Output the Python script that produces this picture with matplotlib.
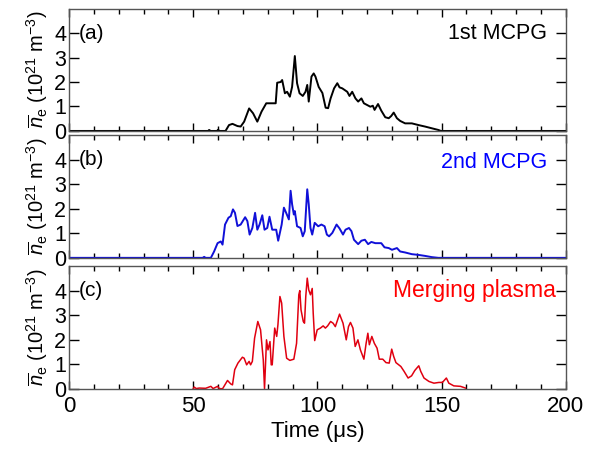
import matplotlib
matplotlib.use('Agg')
import matplotlib.pyplot as plt
from matplotlib.ticker import MultipleLocator

plt.rcParams['font.family'] = ['Liberation Sans', 'DejaVu Sans']
plt.rcParams['mathtext.fontset'] = 'custom'
plt.rcParams['mathtext.rm'] = 'Liberation Sans'
plt.rcParams['mathtext.it'] = 'Liberation Sans:italic'

# (a) 1st MCPG
t_a = [0, 56, 56.4, 57, 59.6, 60, 60.5, 63, 64.4, 65.8, 67.8, 69.1, 70.5, 72.5, 74.1, 75.8,
       77.5, 79.4, 81.8, 83.2, 83.8, 85.2, 85.8, 86.9, 87.8, 88.9, 89.8, 90.9, 91.8, 92.8,
       94.1, 95.2, 95.9, 96.5, 97.6, 98.5, 99.2, 100.5, 102, 103.3, 104.3, 105.3, 106.7, 108,
       108.9, 110, 111, 112, 112.9, 114, 115.3, 116.4, 117.7, 118.7, 120, 121.3, 122.3, 123,
       124.4, 125.7, 127.3, 128.7, 129.7, 130.7, 132, 133.3, 135.3, 138, 140.7, 143.3, 146,
       148.7, 149.7, 200]
n_a = [0, 0, 0.04, 0, 0, 0.05, 0, 0, 0.24, 0.29, 0.2, 0.18, 0.38, 0.92, 0.72, 0.38,
       0.79, 1.13, 1.13, 1.13, 1.97, 2.0, 2.08, 1.54, 1.6, 1.4, 1.8, 3.06, 1.95, 1.54,
       1.43, 1.6, 1.88, 1.2, 2.22, 2.35, 2.22, 1.8, 1.55, 0.95, 0.93, 1.33, 1.74, 1.95,
       1.78, 1.74, 1.67, 1.6, 1.43, 1.6, 1.33, 1.2, 1.33, 1.13, 1.06, 0.99, 1.03, 0.86,
       1.1, 0.83, 0.56, 0.52, 0.61, 0.75, 0.52, 0.41, 0.31, 0.31, 0.24, 0.18, 0.11,
       0.04, 0, 0]

# (b) 2nd MCPG
t_b = [0, 53.8, 54.4, 55, 57.1, 58.4, 59.8, 61.1, 61.8, 62.8, 64.2, 65.1, 66, 66.8, 67.8,
       69.1, 70.9, 71.8, 72.7, 73.8, 74.9, 75.8, 76.7, 77.8, 78.7, 79.8, 80.7, 81.8, 83.4,
       84.2, 85.6, 86.5, 87.4, 88.5, 89.2, 89.8, 90.5, 90.9, 91.8, 93.2, 94.1, 94.9, 95.9,
       96.5, 97.2, 97.9, 98.9, 100.3, 101.6, 102.9, 103.8, 104.7, 106, 107.7, 108.9, 110.3,
       111.3, 112.7, 113.7, 114.7, 116.4, 117.7, 119.1, 120.4, 121.7, 123.3, 125.7, 127,
       128.7, 130, 132, 133.3, 135.3, 138, 140.7, 143.3, 146, 148.7, 200]
n_b = [0, 0, 0.04, 0, 0, 0.26, 0.6, 0.67, 0.54, 1.36, 1.64, 1.7, 1.98, 1.84, 1.3,
       1.36, 1.66, 1.5, 0.95, 1.22, 1.84, 1.15, 1.36, 1.74, 1.15, 1.22, 1.68, 1.15, 1.15,
       0.7, 1.36, 2.05, 1.84, 1.57, 2.74, 2.19, 1.77, 1.91, 1.29, 1.22, 0.88, 1.09, 2.8,
       2.19, 1.22, 0.95, 1.43, 1.29, 1.36, 1.29, 0.95, 0.88, 1.02, 1.36, 1.2, 0.95,
       1.15, 1.22, 1.09, 0.74, 0.56, 0.7, 0.74, 0.56, 0.65, 0.6, 0.6, 0.43,
       0.4, 0.33, 0.4, 0.26, 0.22, 0.15, 0.12, 0.08, 0.03, 0, 0]

# (c) Merging plasma
t_c = [50, 50.4, 51.2, 52.4, 55, 57.1, 58, 59.8, 60.5, 61.8, 63.8, 65.1, 65.8, 66.7, 68,
       69.8, 70.5, 71.5, 72.5, 73.1, 73.8, 74.7, 76, 77.1, 78.2, 78.7, 79.5, 80.1, 80.9,
       81.4, 81.8, 82.8, 83.6, 84.1, 84.9, 85.6, 86.5, 87.6, 88.9, 90.5, 91.6, 92.5, 92.9,
       93.4, 94.3, 94.8, 95.3, 95.9, 96.5, 97.2, 97.9, 98.3, 98.9, 99.9, 101.2, 102.3,
       103.2, 104.1, 105.3, 106.3, 107.2, 108.9, 110.3, 111.6, 112.5, 113.3, 114.3, 115.2,
       116.3, 117.3, 118.7, 119.6, 120.3, 120.9, 121.9, 122.9, 124, 124.9, 126.3, 127.6,
       128.9, 129.9, 130.7, 131.6, 133.6, 134.9, 136.5, 137.9, 139.2, 140.8, 141.6, 142.9,
       144.9, 146.9, 148.9, 150.3, 151.9, 152.9, 154.9, 157.6, 159.6]
n_c = [0, 0.07, 0.01, 0.03, 0.02, 0.1, 0.01, 0.1, 0.01, 0, 0.34, 0.2, 0.16, 0.78, 1.05,
       1.29, 1.25, 0.98, 1.12, 0.98, 1.12, 2.07, 2.75, 2.41, 1.18, 0, 2.0, 1.59, 1.93,
       0.98, 0.98, 2.48, 2.14, 2.62, 3.77, 3.5, 2.14, 1.25, 1.16, 1.21, 1.86, 3.84, 4.01,
       3.22, 2.75, 2.68, 3.77, 4.52, 4.04, 3.84, 4.1, 3.09, 1.97, 2.41, 2.48, 2.57,
       2.48, 2.57, 2.75, 2.68, 2.54, 3.05, 2.68, 2.0, 2.54, 2.71, 2.48, 1.73,
       2.0, 1.59, 1.21, 1.86, 2.27, 1.8, 2.14, 1.86, 1.66, 1.21, 1.21, 1.07,
       1.05, 1.62, 1.32, 1.07, 0.91, 0.71, 0.44, 0.53, 0.75, 0.94, 0.71, 0.44,
       0.3, 0.23, 0.26, 0.26, 0.44, 0.23, 0.12, 0.1, 0.03]

panels = [(t_a, n_a, 'black', '#000000', '(a)', '1st MCPG', 1.4),
          (t_b, n_b, '#1010d8', '#0000ff', '(b)', '2nd MCPG', 1.4),
          (t_c, n_c, '#e00010', '#ff0000', '(c)', 'Merging plasma', 1.1)]
bottoms = [0.709, 0.427, 0.136]

fig = plt.figure(figsize=(5.95, 4.5), dpi=100)
ylab = r'$\overline{n}_\mathrm{e}$ (10$^{21}$ m$^{-3}$)'

for i, (t, n, lc, tc, tag, name, lw) in enumerate(panels):
    ax = fig.add_axes([0.116, bottoms[i], 0.835, 0.272])
    ax.plot(t, n, color=lc, lw=lw)
    ax.set_xlim(0, 200)
    ax.set_ylim(0, 5)
    ax.xaxis.set_major_locator(MultipleLocator(50))
    ax.xaxis.set_minor_locator(MultipleLocator(10))
    ax.set_yticks([0, 1, 2, 3, 4])
    ax.tick_params(which='both', direction='in', top=True, right=True, labelsize=15.5, pad=2)
    ax.tick_params(which='major', length=6, width=1)
    ax.tick_params(which='minor', length=3.5, width=1)
    ax.tick_params(axis='y', which='major', length=7)
    for s in ax.spines.values():
        s.set_color('#555555')
        s.set_linewidth(1)
    if i < 2:
        ax.tick_params(labelbottom=False)
    else:
        ax.tick_params(axis='x', labelsize=16, pad=5)
        ax.set_xlabel('Time (\u03bcs)', fontsize=16, labelpad=3)
    ax.set_ylabel(ylab, fontsize=14.5, labelpad=3)
    ax.text(4, 4.0, tag, fontsize=15, va='center', ha='left')
    ax.text(192.5 if i < 2 else 196, 4.0 if i != 1 else 3.9, name, color=tc,
            fontsize=15.5 if i < 2 else 16.5, va='center', ha='right')

fig.savefig('out.png', dpi=100)
